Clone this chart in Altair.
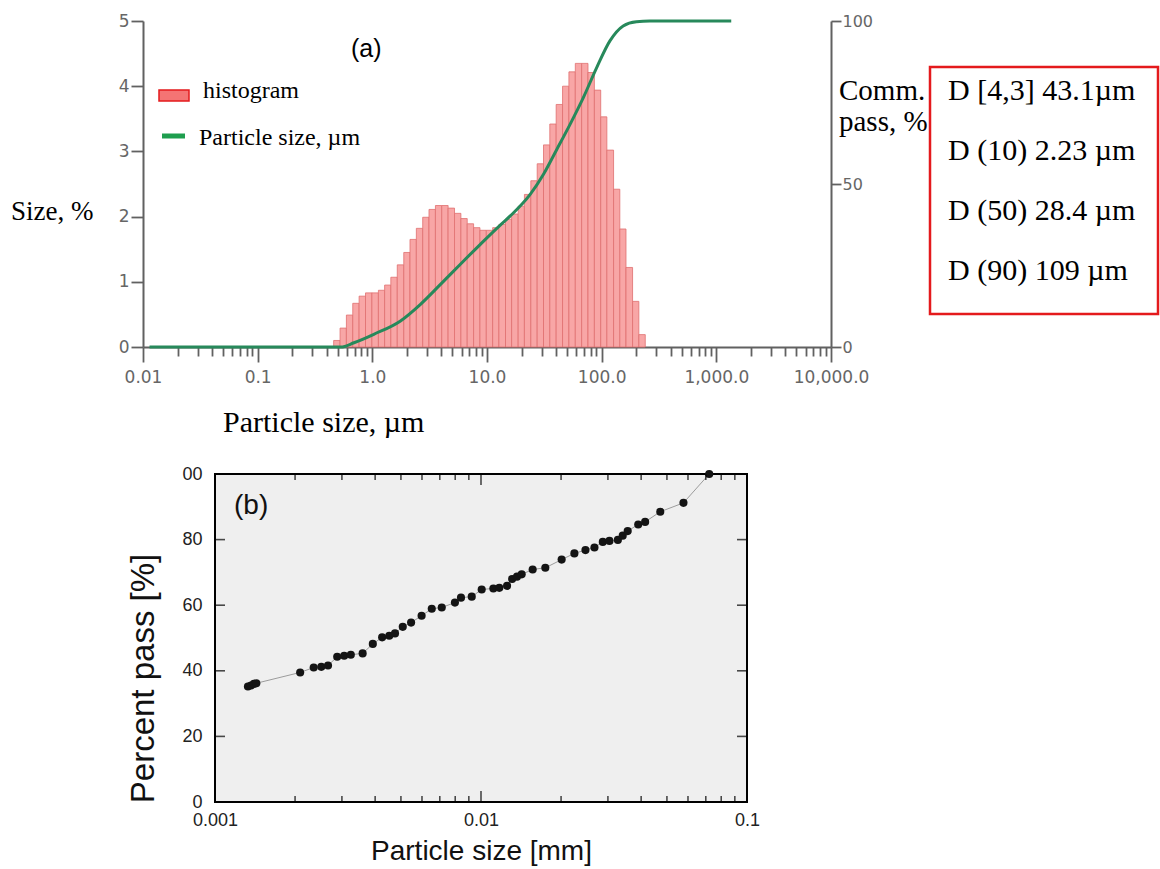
import altair as alt
import pandas as pd

# ---------------- panel (a): laser-diffraction size distribution ----------------
bin_edges_um = [0.46, 0.523, 0.594, 0.675, 0.767, 0.872, 0.991, 1.13, 1.28, 1.45,
                1.65, 1.88, 2.13, 2.42, 2.75, 3.12, 3.55, 4.03, 4.58, 5.21,
                5.92, 6.72, 7.64, 8.68, 9.86, 11.2, 12.7, 14.5, 16.4, 18.7,
                21.2, 24.1, 27.4, 31.1, 35.3, 40.1, 45.6, 51.8, 58.9, 66.9,
                76.0, 86.4, 98.1, 111, 127, 144, 163, 186, 211, 240]
hist_pct = [0.10, 0.29, 0.49, 0.67, 0.78, 0.83, 0.83, 0.87, 0.95, 1.07,
            1.26, 1.45, 1.65, 1.82, 1.99, 2.11, 2.17, 2.17, 2.13, 2.05,
            1.97, 1.89, 1.83, 1.79, 1.79, 1.83, 1.88, 1.96, 2.04, 2.16,
            2.34, 2.55, 2.81, 3.10, 3.42, 3.72, 4.00, 4.22, 4.35, 4.35,
            4.21, 3.94, 3.53, 3.02, 2.42, 1.81, 1.22, 0.70, 0.19]
cum_size_um = [0.0114, 0.53, 0.692, 1.03, 1.76, 2.63, 3.93, 5.86, 8.75, 13.05, 15.96,
               23.8, 31.1, 40.6, 53.0, 69.2, 90.5, 118, 154, 201, 263, 1349]
cum_pass_pct = [0, 0, 1.3, 3.9, 8.0, 13.1, 19.2, 25.4, 31.5, 37.4, 40.2,
                46.8, 53.0, 60.6, 68.3, 76.5, 85.7, 93.9, 98.5, 99.8, 100, 100]
a_major_ticks = [0.01, 0.1, 1.0, 10.0, 100.0, 1000.0, 10000.0]
a_minor_ticks = [m * 10.0 ** e for e in range(-2, 4) for m in range(2, 10)]
a_left_ticks = [0, 1, 2, 3, 4, 5]
a_right_ticks = [0, 50, 100]
legend_labels = ["histogram", "Particle size, µm"]
stats_lines = ["D [4,3] 43.1µm", "D (10) 2.23 µm", "D (50) 28.4 µm", "D (90) 109 µm"]

# ---------------- panel (b): percent passing ----------------
b_size_mm = [0.00133, 0.001365, 0.00140, 0.00143, 0.00209, 0.00235, 0.00251, 0.00266,
             0.00288, 0.00306, 0.00324, 0.00359, 0.00392, 0.00425, 0.00452, 0.00475,
             0.00508, 0.00546, 0.00598, 0.00653, 0.00712, 0.00798, 0.00841, 0.00923,
             0.01006, 0.01113, 0.01172, 0.01253, 0.01309, 0.01366, 0.01422, 0.01564,
             0.01745, 0.0201, 0.02244, 0.0247, 0.0267, 0.0287, 0.0304, 0.0327,
             0.0341, 0.0356, 0.0390, 0.0414, 0.0472, 0.0577, 0.0721]
b_pass_pct = [35.2, 35.5, 36.0, 36.2, 39.5, 41.0, 41.2, 41.6,
              44.3, 44.6, 44.9, 45.3, 48.2, 50.2, 50.7, 51.4,
              53.4, 54.7, 56.8, 58.9, 59.3, 60.8, 62.3, 62.6,
              64.8, 65.1, 65.3, 65.9, 68.0, 68.7, 69.4, 70.9,
              71.4, 73.9, 75.8, 76.8, 77.6, 79.3, 79.6, 79.9,
              81.2, 82.6, 84.6, 85.4, 88.5, 91.2, 100.0]
b_major_ticks = [0.001, 0.01, 0.1]
b_minor_ticks = [m * 10.0 ** e for e in (-3, -2) for m in range(2, 10)]
b_y_ticks = [0, 20, 40, 60, 80, 100]

SERIF = "Liberation Serif"
SANS = "Liberation Sans"
GRAY = "#616161"
RED = "#e41a1c"

WA, HA = 688, 326          # panel (a) plot area
SHIFT_B = 72               # panel (b) plot starts this far right of panel (a)
WB, HB = 532, 328          # panel (b) plot area


def text_at(s, x, y, size, font=SERIF, color="black", angle=0, align="left"):
    return alt.Chart(pd.DataFrame({"t": [s]})).mark_text(
        font=font, fontSize=size, color=color, align=align, baseline="alphabetic", angle=angle
    ).encode(x=alt.value(x), y=alt.value(y), text="t:N")


one = pd.DataFrame({"a": [0]})

# ---------- panel (a) ----------
hist_df = pd.DataFrame({"lo": bin_edges_um[:-1], "hi": bin_edges_um[1:], "pct": hist_pct})
cum_df = pd.DataFrame({"size": cum_size_um, "cum": cum_pass_pct})

MAJOR = "abs(log(datum.value)/LN10 - round(log(datum.value)/LN10)) < 0.001"
x_scale_a = alt.Scale(type="log", domain=[0.01, 10000], nice=False)
x_axis_a = alt.Axis(
    values=sorted(a_major_ticks + a_minor_ticks),
    labelExpr=f"({MAJOR}) ? (datum.value < 1 ? format(datum.value, '~g') : format(datum.value, ',.1f')) : ''",
    labelFlush=False, labelOverlap=False,
    tickSize={"condition": {"test": MAJOR, "value": 15}, "value": 9},
    tickColor=GRAY, tickWidth=1.8, domainColor=GRAY, domainWidth=2,
    labelFont="DejaVu Sans", labelFontSize=17, labelColor="#666666", labelPadding=7,
    grid=False, title=None,
)
y_axis_left = alt.Axis(
    values=a_left_ticks, tickSize=12, tickColor=GRAY, tickWidth=1.8, domainColor=GRAY,
    domainWidth=2, labelFont="DejaVu Sans", labelFontSize=17, labelColor="#666666",
    labelPadding=2, grid=False, title=None,
)
y_axis_right = alt.Axis(
    orient="right", values=a_right_ticks, tickSize=10, tickColor=GRAY, tickWidth=1.8,
    domainColor=GRAY, domainWidth=2, labelFont="DejaVu Sans", labelFontSize=16,
    labelColor="#666666", labelPadding=1, grid=False, title=None,
)

bars = alt.Chart(hist_df).mark_rect(fill="#f8a6a6", stroke="#e07070", strokeWidth=0.8).encode(
    x=alt.X("lo:Q", scale=x_scale_a, axis=x_axis_a),
    x2="hi:Q",
    y=alt.Y("pct:Q", scale=alt.Scale(domain=[0, 5], nice=False), axis=y_axis_left),
    y2=alt.datum(0),
)
cum_line = alt.Chart(cum_df).mark_line(color="#27895b", strokeWidth=3, interpolate="monotone").encode(
    x=alt.X("size:Q", scale=x_scale_a, axis=x_axis_a),
    y=alt.Y("cum:Q", scale=alt.Scale(domain=[0, 100], nice=False), axis=y_axis_right),
)

legend_rect = alt.Chart(one).mark_rect(fill="#f47474", stroke=RED, strokeWidth=1.5).encode(
    x=alt.value(16), x2=alt.value(46), y=alt.value(69), y2=alt.value(80)
)
legend_line = alt.Chart(one).mark_rule(color="#1e9e4e", strokeWidth=5).encode(
    x=alt.value(19), x2=alt.value(42), y=alt.value(115)
)
stats_box = alt.Chart(one).mark_rect(fillOpacity=0, stroke=RED, strokeWidth=2.5).encode(
    x=alt.value(787), x2=alt.value(1015), y=alt.value(46), y2=alt.value(293)
)
anchor_a = alt.Chart(one).mark_rule(color="white", strokeWidth=1).encode(
    x=alt.value(-142), x2=alt.value(-141), y=alt.value(-20), y2=alt.value(425)
)

annots_a = [
    text_at("(a)", 208, 36, 25, SANS),
    text_at(legend_labels[0], 60, 77, 24),
    text_at(legend_labels[1], 56, 124, 24),
    text_at("Size, %", -132, 199, 27),
    text_at("Particle size, µm", 80, 411, 30),
    text_at("Comm.", 696, 79, 29),
    text_at("pass, %", 696, 110, 29),
]
for i, s in enumerate(stats_lines):
    annots_a.append(text_at(s, 805, 79 + 60 * i, 30))

upper = alt.layer(
    bars, cum_line, legend_rect, legend_line, stats_box, anchor_a, *annots_a
).resolve_scale(y="independent").properties(
    width=WA, height=HA, view=alt.ViewBackground(stroke="transparent")
)

# ---------- panel (b) ----------
b_df = pd.DataFrame({"d": b_size_mm, "p": b_pass_pct})
x_scale_b = alt.Scale(type="log", domain=[0.001, 0.1], nice=False, range=[SHIFT_B, SHIFT_B + WB])
y_scale_b = alt.Scale(domain=[0, 100], nice=False)
x_axis_b = alt.Axis(
    values=b_major_ticks, labelExpr="format(datum.value, '~g')", labelFlush=False,
    labelOverlap=False, ticks=False, domain=False, labelPadding=9, labelFont=SANS,
    labelFontSize=18, labelColor="#222222", grid=False, title="Particle size [mm]",
    titleFont=SANS, titleFontSize=28, titleFontWeight="normal", titleColor="#111111",
    titleY=57, titleBaseline="alphabetic", titleX=SHIFT_B + WB / 2, titleAlign="center",
)
y_axis_b = alt.Axis(
    values=b_y_ticks, labelExpr="datum.value == 100 ? '00' : datum.label",
    ticks=False, domain=False, offset=-SHIFT_B, labelPadding=13, labelFont=SANS,
    labelFontSize=18, labelColor="#222222", labelOverlap=False, grid=False,
    title="Percent pass [%]", titleFont=SANS, titleFontSize=33, titleFontWeight="normal",
    titleColor="#111111", titleAngle=270, titleX=-62, titleY=204, titleAlign="center",
    titleBaseline="alphabetic",
)

frame_b = alt.Chart(one).mark_rect(fill="#efefef", stroke="black", strokeWidth=2).encode(
    x=alt.XDatum(0.001, type="quantitative", scale=x_scale_b, axis=x_axis_b),
    x2=alt.X2Datum(0.1),
    y=alt.YDatum(0, type="quantitative", scale=y_scale_b, axis=y_axis_b),
    y2=alt.Y2Datum(100),
)
line_b = alt.Chart(b_df).mark_line(color="#9c9c9c", strokeWidth=1).encode(
    x=alt.X("d:Q", scale=x_scale_b, axis=x_axis_b),
    y=alt.Y("p:Q", scale=y_scale_b, axis=y_axis_b),
)
pts_b = alt.Chart(b_df).mark_circle(size=66, color="#141414", opacity=1).encode(
    x=alt.X("d:Q", scale=x_scale_b, axis=x_axis_b),
    y=alt.Y("p:Q", scale=y_scale_b, axis=y_axis_b),
)

xmaj = pd.DataFrame({"d": b_major_ticks})
xmin = pd.DataFrame({"d": b_minor_ticks})
yt = pd.DataFrame({"p": b_y_ticks})


def xtick(df, length, yc):
    return alt.Chart(df).mark_tick(orient="vertical", size=length, thickness=1.6, color="black").encode(
        x=alt.X("d:Q", scale=x_scale_b, axis=x_axis_b), y=alt.value(yc)
    )


def ytick(df, length, xc):
    return alt.Chart(df).mark_tick(orient="horizontal", size=length, thickness=1.6, color="black").encode(
        y=alt.Y("p:Q", scale=y_scale_b, axis=y_axis_b), x=alt.value(xc)
    )


ticks_b = [
    xtick(xmaj, 11, HB - 5.5), xtick(xmin, 6, HB - 3),
    xtick(xmaj, 11, 5.5), xtick(xmin, 6, 3),
    ytick(yt, 10, SHIFT_B + 5), ytick(yt, 10, SHIFT_B + WB - 5),
]
anchor_b = alt.Chart(one).mark_rule(color="white", strokeWidth=1).encode(
    x=alt.value(-142), x2=alt.value(-141), y=alt.value(-26), y2=alt.value(-25)
)
label_b = text_at("(b)", SHIFT_B + 19, 40, 28, SANS, "#111111")

lower = alt.layer(frame_b, line_b, pts_b, *ticks_b, anchor_b, label_b).properties(
    width=SHIFT_B + WB, height=HB, view=alt.ViewBackground(stroke="transparent")
)

chart = alt.vconcat(upper, lower, spacing=0).properties(
    padding={"left": 0, "top": 0, "right": 0, "bottom": 0}
).configure_view(stroke="transparent")

chart.save("out.html", embed_options={"renderer": "svg", "actions": False})
